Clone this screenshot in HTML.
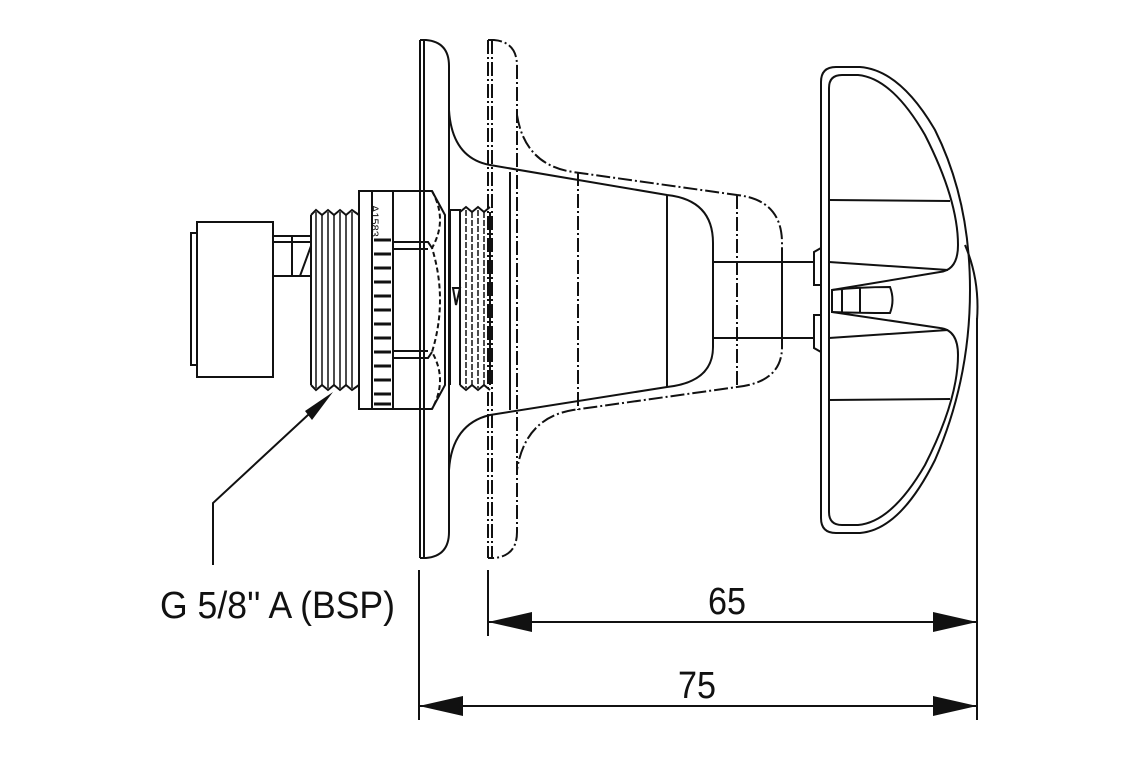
<!DOCTYPE html>
<html><head><meta charset="utf-8"><style>
html,body{margin:0;padding:0;background:#fff;}
svg{display:block;}
text{font-family:"Liberation Sans",sans-serif;fill:#111;}
</style></head><body>
<svg width="1140" height="760" viewBox="0 0 1140 760" xmlns="http://www.w3.org/2000/svg">
<g fill="none" stroke="#111" stroke-width="2">
<!-- solid plate -->
<path d="M420 40 V558 M424 40 V558 M420 40 H426 Q449 42 449 66 V532 Q449 556 426 558 H420"/>
<!-- solid flange -->
<path d="M449 110 Q452 158 490 165 L667 195 Q713 200 713 243 V347 Q713 382 667 387 L490 415 Q452 424 449 470"/>
<path d="M510 172 V410 M667 195 V387"/>
<!-- dashed plate -->
<g stroke-dasharray="14 3 2 3">
<path d="M488 40 V558 M492 40 V558 M488 40 H494 Q517 42 517 66 V532 Q517 556 494 558 H488"/>
<path d="M517 115 Q525 165 573 172 L737 195 Q782 200 782 243 V347 Q782 382 737 387 L573 410 Q525 418 517 470"/>
<path d="M578 172 V410 M737 195 V387"/>
</g>
<!-- stem -->
<path d="M713 262 H815 M713 338 H815 M782 262 V338"/>
<!-- handle -->
<path d="M821 82 Q821 67 836 67 H860 Q900 70 935 130 Q970 200 970 290 Q970 380 935 460 Q900 530 860 533 H836 Q821 533 821 518 Z"/>
<path d="M829 88 Q829 75 842 75 H858 Q892 78 925 135 Q958 200 958 245 Q958 270 940 272 L832 290 M829 88 V512 Q829 525 842 525 H858 Q892 522 925 465 Q958 400 958 355 Q958 330 940 328 L832 312"/>
<path d="M829 200 L950 201 M829 400 L950 399 M829 262 L948 270 M829 338 L948 330"/>
<path d="M832 290 Q860 287 890 287 Q895 300 890 313 Q860 313 832 312 Z M842 288 V312 M860 287 V313"/>
<path d="M814 252 L821 248 V285 H814 Z M814 315 H821 V352 L814 348 Z"/>
<path d="M965 245 Q980 280 977 320"/>
<!-- hex nut -->
<path d="M359 191 V409 H432 L445 385 L445 215 L432 191 Z"/>
<path d="M372 191 V409 M393 191 V409"/>
<path d="M393 242 H428 L432 248 M393 249 H428 M393 351 H428 M393 358 H428 L432 352"/>
<path d="M432 191 Q448 220 432 248 Q448 300 432 352 Q448 380 432 409" stroke-dasharray="5 3"/>
<g stroke-width="3">
<path d="M374 240 H391 M374 254 H391 M374 268 H391 M374 282 H391 M374 296 H391 M374 310 H391 M374 324 H391 M374 338 H391 M374 352 H391 M374 366 H391 M374 380 H391 M374 394 H391 M374 404 H391"/>
</g>
<!-- left thread -->
<path d="M311 215 V385 M359 215 V385"/>
<path d="M311 215 L316 210 L322 215 L328 210 L334 215 L340 210 L346 215 L352 210 L359 215 M311 385 L316 390 L322 385 L328 390 L334 385 L340 390 L346 385 L352 390 L359 385"/>
<path d="M316 212 V388 M322 215 V385 M328 212 V388 M334 215 V385 M340 212 V388 M346 215 V385 M352 212 V388" stroke-width="1.5"/>
<!-- stem and cap -->
<path d="M273 236 H311 M273 276 H311 M273 242 H311 M292 236 V276 M300 276 L311 246"/>
<path d="M197 222 H273 V377 H197 Z M191 233 H197 V365 H191 Z"/>
<!-- right thread -->
<path d="M450 210 H460 V385 M450 210 V385 M490 212 V385"/>
<path d="M460 212 L466 207 L472 212 L478 207 L484 212 L490 207 M460 385 L466 390 L472 385 L478 390 L484 385 L490 390"/>
<path d="M466 210 V388 M472 212 V385 M478 210 V388 M484 212 V385" stroke-width="1.5" stroke-dasharray="6 2"/>
<path d="M453 288 L460 288 L456 305 Z"/>
<!-- leader -->
<path d="M213 565 V503 L322 402"/>
<!-- dimensions -->
<path d="M419 570 V720 M488 570 V636 M977 318 V720"/>
<path d="M488 622 H977 M419 706 H977"/>
</g>
<g fill="#111">
<path d="M333 392 L312 420 L305 411 Z"/>
<path d="M488 622 L532 612 V632 Z M977 622 L933 612 V632 Z"/>
<path d="M419 706 L463 696 V716 Z M977 706 L933 696 V716 Z"/>
</g>
<text x="378" y="222" font-size="11" transform="rotate(90 383 210)">A1583</text>
<text x="160" y="618" font-size="38" textLength="235" lengthAdjust="spacingAndGlyphs">G 5/8'' A (BSP)</text>
<text x="708" y="614" font-size="38" textLength="38" lengthAdjust="spacingAndGlyphs">65</text>
<text x="678" y="698" font-size="38" textLength="38" lengthAdjust="spacingAndGlyphs">75</text>
</svg>
</body></html>
